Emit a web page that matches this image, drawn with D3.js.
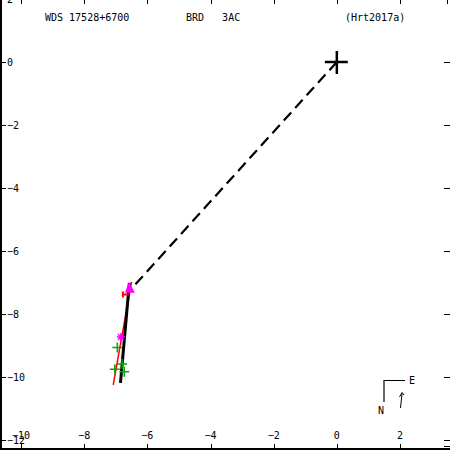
<!DOCTYPE html>
<html>
<head>
<meta charset="utf-8">
<script src="https://cdn.jsdelivr.net/npm/d3@7"></script>
<style>
  body { margin: 0; background: #fff; }
  text { font-family: "DejaVu Sans Mono", monospace; font-size: 10px; fill: #000; }
</style>
</head>
<body>
<div class="orbitPlot"></div>
<script>
// tick values
var xTicks = [-10, -8, -6, -4, -2, 0, 2];
var yTicks = [2, 0, -2, -4, -6, -8, -10, -12];

// orbit arc and residual line (arcsec)
var orbitX = [-6.57, -6.71, -6.85];
var orbitY = [-7.02, -8.6, -10.19];
var fitX = [-6.50, -7.08];
var fitY = [-6.98, -10.25];

// measures
var greenX = [-6.95, -7.03, -6.80, -6.73];
var greenY = [-9.06, -9.75, -9.59, -9.83];
var starX = [-6.84];
var starY = [-8.73];
var redX = [-6.68];
var redY = [-7.38];
var triX = [-6.55];
var triY = [-7.2];

// primary and predicted position
var origin = [0, 0];
var predicted = [-6.55, -7.25];

var width = 450, height = 450;

var x = d3.scaleLinear().domain([-10, 2]).range([21, 400]);
var y = d3.scaleLinear().domain([0, -12]).range([62, 440]);

var svg = d3.select(".orbitPlot")
    .append("svg")
    .attr("width", width)
    .attr("height", height);

svg.append("rect").attr("width", width).attr("height", height).attr("fill", "#fff");

var frame = svg.append("g").attr("shape-rendering", "crispEdges").attr("stroke", "#000");

// left and bottom border
frame.append("line").attr("x1", 0.5).attr("x2", 0.5).attr("y1", 0).attr("y2", 450).attr("stroke-width", 2);
frame.append("line").attr("x1", 0).attr("x2", 450).attr("y1", 449).attr("y2", 449).attr("stroke-width", 2);

// ticks on all four sides
frame.selectAll(".tb").data(xTicks).enter().append("line")
    .attr("x1", function (d) { return Math.round(x(d)) + 0.5; })
    .attr("x2", function (d) { return Math.round(x(d)) + 0.5; })
    .attr("y1", 444).attr("y2", 449);
frame.selectAll(".tt").data(xTicks.concat([3.48])).enter().append("line")
    .attr("x1", function (d) { return Math.round(x(d)) + 0.5; })
    .attr("x2", function (d) { return Math.round(x(d)) + 0.5; })
    .attr("y1", 0).attr("y2", 4);
frame.selectAll(".tl").data(yTicks).enter().append("line")
    .attr("x1", 0).attr("x2", 6)
    .attr("y1", function (d) { return Math.round(y(d)) + 0.5; })
    .attr("y2", function (d) { return Math.round(y(d)) + 0.5; });
frame.selectAll(".tr").data(yTicks.concat([-12.2])).enter().append("line")
    .attr("x1", 444).attr("x2", 450)
    .attr("y1", function (d) { return Math.round(y(d)) + 0.5; })
    .attr("y2", function (d) { return Math.round(y(d)) + 0.5; });

function fmt(d) { return d < 0 ? "\u2212" + (-d) : "" + d; }

svg.selectAll(".xl").data(xTicks).enter().append("text")
    .attr("x", function (d) { return x(d); })
    .attr("y", 439)
    .attr("text-anchor", "middle")
    .text(fmt);

svg.selectAll(".yl").data(yTicks).enter().append("text")
    .attr("x", 7)
    .attr("y", function (d) { return y(d) + 3.5; })
    .text(fmt);

// title line
svg.append("text").attr("x", 45).attr("y", 20.5).attr("xml:space", "preserve").text("WDS 17528+6700");
svg.append("text").attr("x", 186).attr("y", 20.5).attr("xml:space", "preserve").text("BRD   3AC");
svg.append("text").attr("x", 345).attr("y", 20.5).text("(Hrt2017a)");

// dashed line primary -> predicted
svg.append("line")
    .attr("x1", x(origin[0])).attr("y1", y(origin[1]))
    .attr("x2", x(predicted[0])).attr("y2", y(predicted[1]))
    .attr("stroke", "#000").attr("stroke-width", 2.2)
    .attr("stroke-dasharray", "11,6");

// primary cross
svg.append("line").attr("x1", x(origin[0]) - 12).attr("x2", x(origin[0]) + 11)
    .attr("y1", y(origin[1])).attr("y2", y(origin[1])).attr("stroke", "#000").attr("stroke-width", 2.5);
svg.append("line").attr("x1", x(origin[0])).attr("x2", x(origin[0]))
    .attr("y1", y(origin[1]) - 11).attr("y2", y(origin[1]) + 12).attr("stroke", "#000").attr("stroke-width", 2.5);

var line = d3.line()
    .x(function (d) { return x(d[0]); })
    .y(function (d) { return y(d[1]); });

// red line
svg.append("path")
    .datum(d3.zip(fitX, fitY))
    .attr("d", line)
    .attr("fill", "none").attr("stroke", "#f00").attr("stroke-width", 1.5);

// orbit arc
svg.append("path")
    .datum(d3.zip(orbitX, orbitY))
    .attr("d", line)
    .attr("fill", "none").attr("stroke", "#000").attr("stroke-width", 3);

// magenta triangle
svg.selectAll(".tri").data(d3.zip(triX, triY)).enter().append("path")
    .attr("transform", function (d) { return "translate(" + x(d[0]) + "," + y(d[1]) + ")"; })
    .attr("d", "M-1,-7L5,4L-5,4Z")
    .attr("fill", "#f0f");

// red plus
svg.selectAll(".rp").data(d3.zip(redX, redY)).enter().append("path")
    .attr("transform", function (d) { return "translate(" + x(d[0]) + "," + y(d[1]) + ")"; })
    .attr("d", "M-3,-3V3M-3,0H3")
    .attr("fill", "none").attr("stroke", "#f00").attr("stroke-width", 2);

// magenta star
svg.selectAll(".st").data(d3.zip(starX, starY)).enter().append("path")
    .attr("transform", function (d) { return "translate(" + x(d[0]) + "," + y(d[1]) + ")"; })
    .attr("d", "M-4,0H4M0,-4V4M-3,-3L3,3M-3,3L3,-3")
    .attr("fill", "none").attr("stroke", "#f0f").attr("stroke-width", 1.3);

// green pluses
svg.selectAll(".gp").data(d3.zip(greenX, greenY)).enter().append("path")
    .attr("transform", function (d) { return "translate(" + x(d[0]) + "," + y(d[1]) + ")"; })
    .attr("d", "M-5,0H5M0,-5V5")
    .attr("fill", "none").attr("stroke", "#0a0").attr("stroke-width", 1.5);

// compass
var comp = svg.append("g").attr("stroke", "#000").attr("fill", "none");
comp.append("path").attr("d", "M384,402V380.5H405").attr("stroke-width", 1.2);
svg.append("text").attr("x", 409).attr("y", 384).text("E");
svg.append("text").attr("x", 378).attr("y", 414).text("N");
comp.append("path").attr("d", "M400.5,408L402,394M399.5,397L402,392.5L404,395").attr("stroke-width", 1);
</script>
</body>
</html>
